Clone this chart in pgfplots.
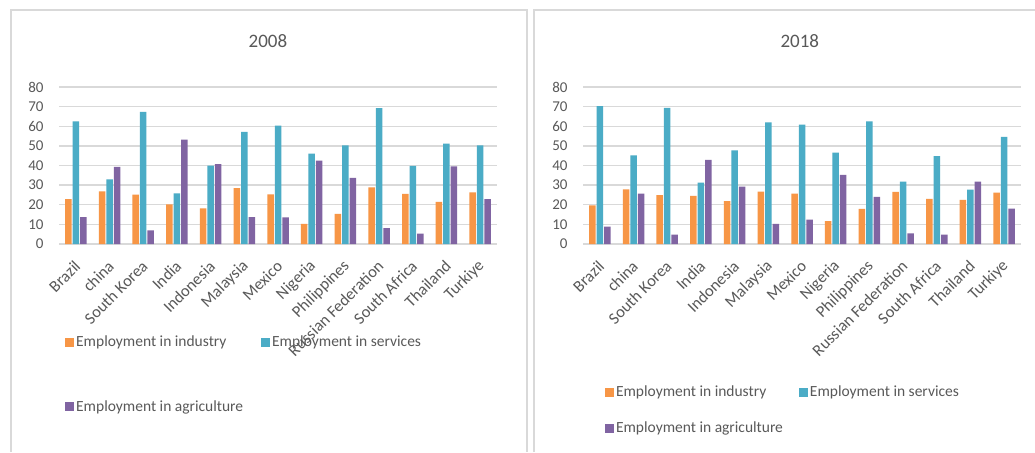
\documentclass[border=0pt]{standalone}
\usepackage{fontspec}
\setmainfont{Carlito}
\usepackage{pgfplots}
\usepackage{pgfplotstable}
\pgfplotsset{compat=1.18}
\definecolor{cInd}{HTML}{F79646}
\definecolor{cSer}{HTML}{4BACC6}
\definecolor{cAgr}{HTML}{8064A2}
\definecolor{txt}{HTML}{595959}
\definecolor{grd}{HTML}{D9D9D9}

\pgfplotstableread{
idx ind ser agr
0 22.9 62.5 13.7
1 26.8 32.9 39.3
2 25.1 67.3 6.9
3 20.2 25.8 53.2
4 18.1 40.0 40.7
5 28.5 57.1 13.7
6 25.3 60.3 13.6
7 10.3 46.1 42.5
8 15.3 50.3 33.7
9 28.8 69.3 8.1
10 25.6 39.8 5.3
11 21.5 51.2 39.5
12 26.3 50.2 22.9
}\dataA

\pgfplotstableread{
idx ind ser agr
0 19.7 70.3 8.9
1 27.9 45.1 25.7
2 24.9 69.4 4.8
3 24.5 31.3 42.9
4 21.8 47.7 29.3
5 26.7 62.0 10.2
6 25.7 60.8 12.4
7 11.7 46.6 35.2
8 17.9 62.5 24.0
9 26.6 31.8 5.4
10 23.0 44.8 4.8
11 22.5 27.7 31.8
12 26.2 54.6 18.0
}\dataB

\pgfplotsset{panel/.style={
 scale only axis, width=438pt, height=157pt,
 ymin=0, ymax=80, ytick={0,10,...,80},
 xmin=-0.5, xmax=12.5, xtick={0,...,12},
 xticklabels={Brazil,china,South Korea,India,Indonesia,Malaysia,Mexico,Nigeria,Philippines,Russian Federation,South Africa,Thailand,Turkiye},
 ybar=1pt, bar width=6.5pt,
 ymajorgrids, grid style={grd, line width=1.3pt},
 axis line style={draw=none},
 major tick length=0pt,
 tick label style={font=\fontsize{15}{18}\selectfont, text=txt},
 /pgf/number format/assume math mode=true,
 xticklabel style={font=\fontsize{16.5}{19}\selectfont, xshift=4pt, yshift=-17pt, rotate=45, anchor=east},
 yticklabel style={xshift=-12pt},
 title style={font=\fontsize{19}{22}\selectfont, text=txt, anchor=center, yshift=-6pt},
 legend columns=2,
 legend style={draw=none, fill=none, font=\fontsize{15.5}{18}\selectfont, text=txt, anchor=north west},
 legend cell align=left,
 legend image code/.code={\fill[##1,draw=none] (0pt,-4.5pt) rectangle (9pt,4.5pt);},
}}

\begin{document}
\begin{tikzpicture}
\useasboundingbox (0,0) rectangle (1035pt,-452pt);
\fill[white] (0,0) rectangle (1035pt,-452pt);
\draw[grd, line width=2pt] (11pt,-452pt) -- (11pt,-10pt) -- (527pt,-10pt) -- (527pt,-452pt);
\draw[grd, line width=2pt] (534pt,-452pt) -- (534pt,-10pt) -- (1035pt,-10pt);

\begin{axis}[panel, at={(59pt,-244pt)}, anchor=south west,
  title=2008, title style={at={(axis description cs:0.477,1.29)}},
  legend style={at={(axis description cs:0.0068,-0.56)}, row sep=48pt,
    /tikz/every even column/.append style={column sep=16pt}}]
\addplot[fill=cInd, draw=none] table[x=idx,y=ind]{\dataA};
\addplot[fill=cSer, draw=none] table[x=idx,y=ser]{\dataA};
\addplot[fill=cAgr, draw=none] table[x=idx,y=agr]{\dataA};
\legend{Employment in industry,Employment in services,Employment in agriculture}
\end{axis}

\begin{axis}[panel, at={(583pt,-244pt)}, anchor=south west,
  title=2018, title style={at={(axis description cs:0.495,1.29)}},
  legend style={at={(axis description cs:0.043,-0.879)}, row sep=19.5pt,
    /tikz/every even column/.append style={column sep=14pt}}]
\addplot[fill=cInd, draw=none] table[x=idx,y=ind]{\dataB};
\addplot[fill=cSer, draw=none] table[x=idx,y=ser]{\dataB};
\addplot[fill=cAgr, draw=none] table[x=idx,y=agr]{\dataB};
\legend{Employment in industry,Employment in services,Employment in agriculture}
\end{axis}
\end{tikzpicture}
\end{document}
